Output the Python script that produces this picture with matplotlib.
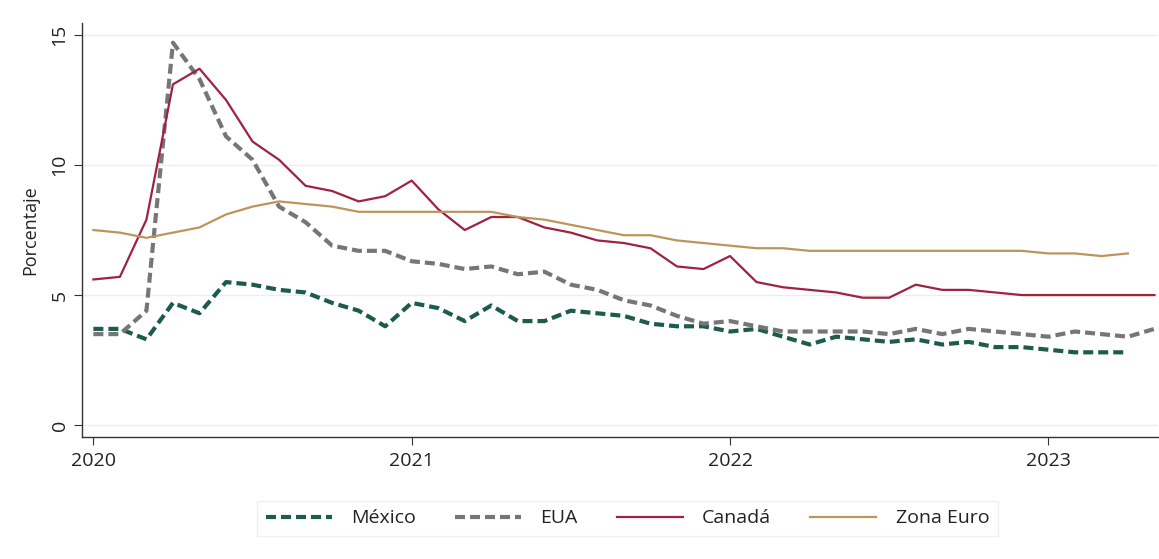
import matplotlib
matplotlib.use("Agg")
import matplotlib.pyplot as plt
import numpy as np

plt.rcParams['font.family'] = ['Open Sans', 'DejaVu Sans']

years = ["2020", "2021", "2022", "2023"]
year_ticks = [0, 12, 24, 36]  # month index of January

mexico = [3.7, 3.7, 3.3, 4.7, 4.3, 5.5, 5.4, 5.2, 5.1, 4.7, 4.4, 3.8,
          4.7, 4.5, 4.0, 4.6, 4.0, 4.0, 4.4, 4.3, 4.2, 3.9, 3.8, 3.8,
          3.6, 3.7, 3.4, 3.1, 3.4, 3.3, 3.2, 3.3, 3.1, 3.2, 3.0, 3.0,
          2.9, 2.8, 2.8, 2.8]
eua = [3.5, 3.5, 4.4, 14.7, 13.3, 11.1, 10.2, 8.4, 7.8, 6.9, 6.7, 6.7,
       6.3, 6.2, 6.0, 6.1, 5.8, 5.9, 5.4, 5.2, 4.8, 4.6, 4.2, 3.9,
       4.0, 3.8, 3.6, 3.6, 3.6, 3.6, 3.5, 3.7, 3.5, 3.7, 3.6, 3.5,
       3.4, 3.6, 3.5, 3.4, 3.7]
canada = [5.6, 5.7, 7.9, 13.1, 13.7, 12.5, 10.9, 10.2, 9.2, 9.0, 8.6, 8.8,
          9.4, 8.3, 7.5, 8.0, 8.0, 7.6, 7.4, 7.1, 7.0, 6.8, 6.1, 6.0,
          6.5, 5.5, 5.3, 5.2, 5.1, 4.9, 4.9, 5.4, 5.2, 5.2, 5.1, 5.0,
          5.0, 5.0, 5.0, 5.0, 5.0]
zona_euro = [7.5, 7.4, 7.2, 7.4, 7.6, 8.1, 8.4, 8.6, 8.5, 8.4, 8.2, 8.2,
             8.2, 8.2, 8.2, 8.2, 8.0, 7.9, 7.7, 7.5, 7.3, 7.3, 7.1, 7.0,
             6.9, 6.8, 6.8, 6.7, 6.7, 6.7, 6.7, 6.7, 6.7, 6.7, 6.7, 6.7,
             6.6, 6.6, 6.5, 6.6]

fig = plt.figure(figsize=(11.59, 5.59), dpi=100)
ax = fig.add_axes([0.0705, 0.218, 0.929, 0.741])

ax.plot(np.arange(len(mexico)), mexico, color="#1e5b4f", lw=3.0,
        dashes=(2.4, 1.2), label="México")
ax.plot(np.arange(len(eua)), eua, color="#767676", lw=3.0,
        dashes=(2.4, 1.2), label="EUA")
ax.plot(np.arange(len(canada)), canada, color="#9f2241", lw=1.6, label="Canadá")
ax.plot(np.arange(len(zona_euro)), zona_euro, color="#bc955c", lw=1.6, label="Zona Euro")

ax.set_xlim(-0.44, 40.15)
ax.set_ylim(-0.46, 15.46)
ax.set_yticks([0, 5, 10, 15])
ax.set_yticklabels(["0", "5", "10", "15"], rotation=90, va="center")
ax.set_xticks(year_ticks)
ax.set_xticklabels(years)
ax.grid(axis="y", color="#e8eef3", lw=1.0)
ax.set_axisbelow(True)
for s in ["top", "right"]:
    ax.spines[s].set_visible(False)
for s in ["left", "bottom"]:
    ax.spines[s].set_color("#333333")
    ax.spines[s].set_linewidth(1.0)
ax.tick_params(axis="both", length=5.5, color="#333333", labelsize=14, labelcolor="#222222")
ax.tick_params(axis="x", pad=5)
ax.tick_params(axis="y", pad=4)
ax.set_ylabel("Porcentaje", fontsize=13, color="#222222", labelpad=8)

leg = fig.legend(loc="center", bbox_to_anchor=(0.5414, 0.0725), ncol=4,
                 frameon=True, fancybox=False, edgecolor="#e8eef3",
                 fontsize=14, handlelength=3.4, columnspacing=2.0,
                 handletextpad=1.0, borderpad=0.45)
for t in leg.get_texts():
    t.set_color("#222222")

fig.savefig("out.png", dpi=100, facecolor="white")
